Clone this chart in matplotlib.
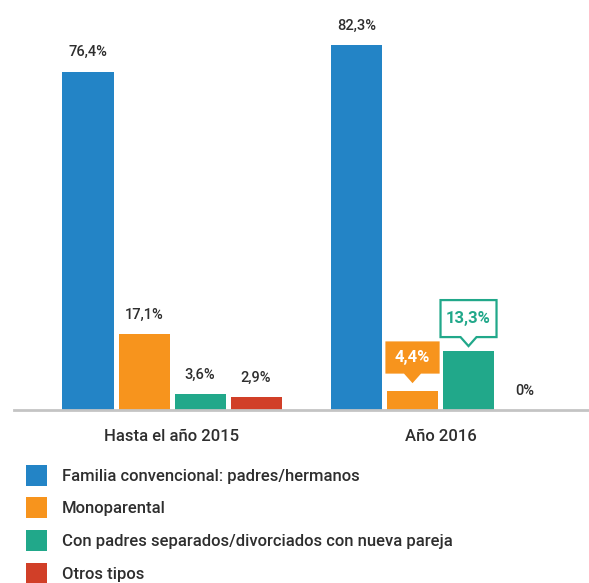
import matplotlib
matplotlib.use('Agg')
import matplotlib.pyplot as plt
import matplotlib.transforms as mtransforms
from matplotlib.patches import Polygon, Rectangle
import numpy as np

# datos
grupos = ['Hasta el año 2015', 'Año 2016']
tipos = ['Familia convencional: padres/hermanos',
         'Monoparental',
         'Con padres separados/divorciados con nueva pareja',
         'Otros tipos']
valores_2015 = [76.4, 17.1, 3.6, 2.9]
valores_2016 = [82.3, 4.4, 13.3, 0.0]
colores = ['#2384c6', '#f7941d', '#21a88a', '#d13f28']

plt.rcParams['font.family'] = ['Roboto', 'DejaVu Sans']
texto = '#2e2e2e'

fig = plt.figure(figsize=(5.89, 5.83), dpi=100)
ax = fig.add_axes([14 / 589, 173 / 583, 575 / 589, 410 / 583])

paso = 0.2086
ancho = 0.19
offsets = (np.arange(4) - 1.5) * paso
valores = np.array([valores_2015, valores_2016])


def etiqueta(v):
    return ('%.1f' % v).replace('.', ',') + '%' if v > 0 else '0%'


def globo(x, y, dy0, dy1, medio, punta, cara, borde, txt, color_txt):
    # callout en pixeles relativo al punto (x, y) de datos
    tr = fig.dpi_scale_trans + mtransforms.ScaledTranslation(x, y, ax.transData)
    s = 1 / 100.0
    pts = [(-medio, dy0), (-8, dy0), (0, punta), (8, dy0), (medio, dy0),
           (medio, dy1), (-medio, dy1)]
    pts = [(a * s, b * s) for a, b in pts]
    ax.add_patch(Polygon(pts, closed=True, facecolor=cara, edgecolor=borde,
                         linewidth=1.6, transform=tr, clip_on=False, zorder=5,
                         joinstyle='miter'))
    ax.text(0, (dy0 + dy1) / 2 * s, txt, transform=tr, ha='center', va='center',
            fontsize=12, fontweight='bold', color=color_txt, zorder=6)


for g in range(2):
    for i in range(4):
        x = g + offsets[i]
        v = valores[g, i]
        ax.bar(x, v, width=ancho, color=colores[i], linewidth=0)
        if g == 1 and i in (1, 2):
            continue
        ax.annotate(etiqueta(v), (x, v), xytext=(0, 14), textcoords='offset points',
                    ha='center', va='center', fontsize=10.5, fontweight='medium',
                    color=texto)

# globos del 2016
x1 = 1 + offsets[1]
globo(x1, valores_2016[1], 18, 48, 26, 9, colores[1], colores[1],
      etiqueta(valores_2016[1]), 'white')
x2 = 1 + offsets[2]
globo(x2, valores_2016[2], 14, 51, 28, 5, 'white', colores[2],
      etiqueta(valores_2016[2]), colores[2])

ax.set_xlim(-0.5885, 1.553)
ax.set_ylim(0, 92.55)
ax.set_xticks([0, 1])
ax.set_xticklabels(grupos, fontsize=12, fontweight='medium', color=texto)
ax.tick_params(axis='x', length=0, pad=14)
ax.set_yticks([])
for lado in ['top', 'right', 'left']:
    ax.spines[lado].set_visible(False)
ax.spines['bottom'].set_color('#c4c4c4')
ax.spines['bottom'].set_linewidth(2)

# leyenda
for i, t in enumerate(tipos):
    yc = 475 + i * 32.8
    fig.add_artist(Rectangle((26 / 589, 1 - (yc + 10.5) / 583), 21 / 589, 21 / 583,
                             transform=fig.transFigure, facecolor=colores[i],
                             linewidth=0))
    fig.text(62 / 589, 1 - (yc + 1) / 583, t, ha='left', va='center', fontsize=12,
             fontweight='medium', color=texto)

fig.savefig('out.png', dpi=100)
